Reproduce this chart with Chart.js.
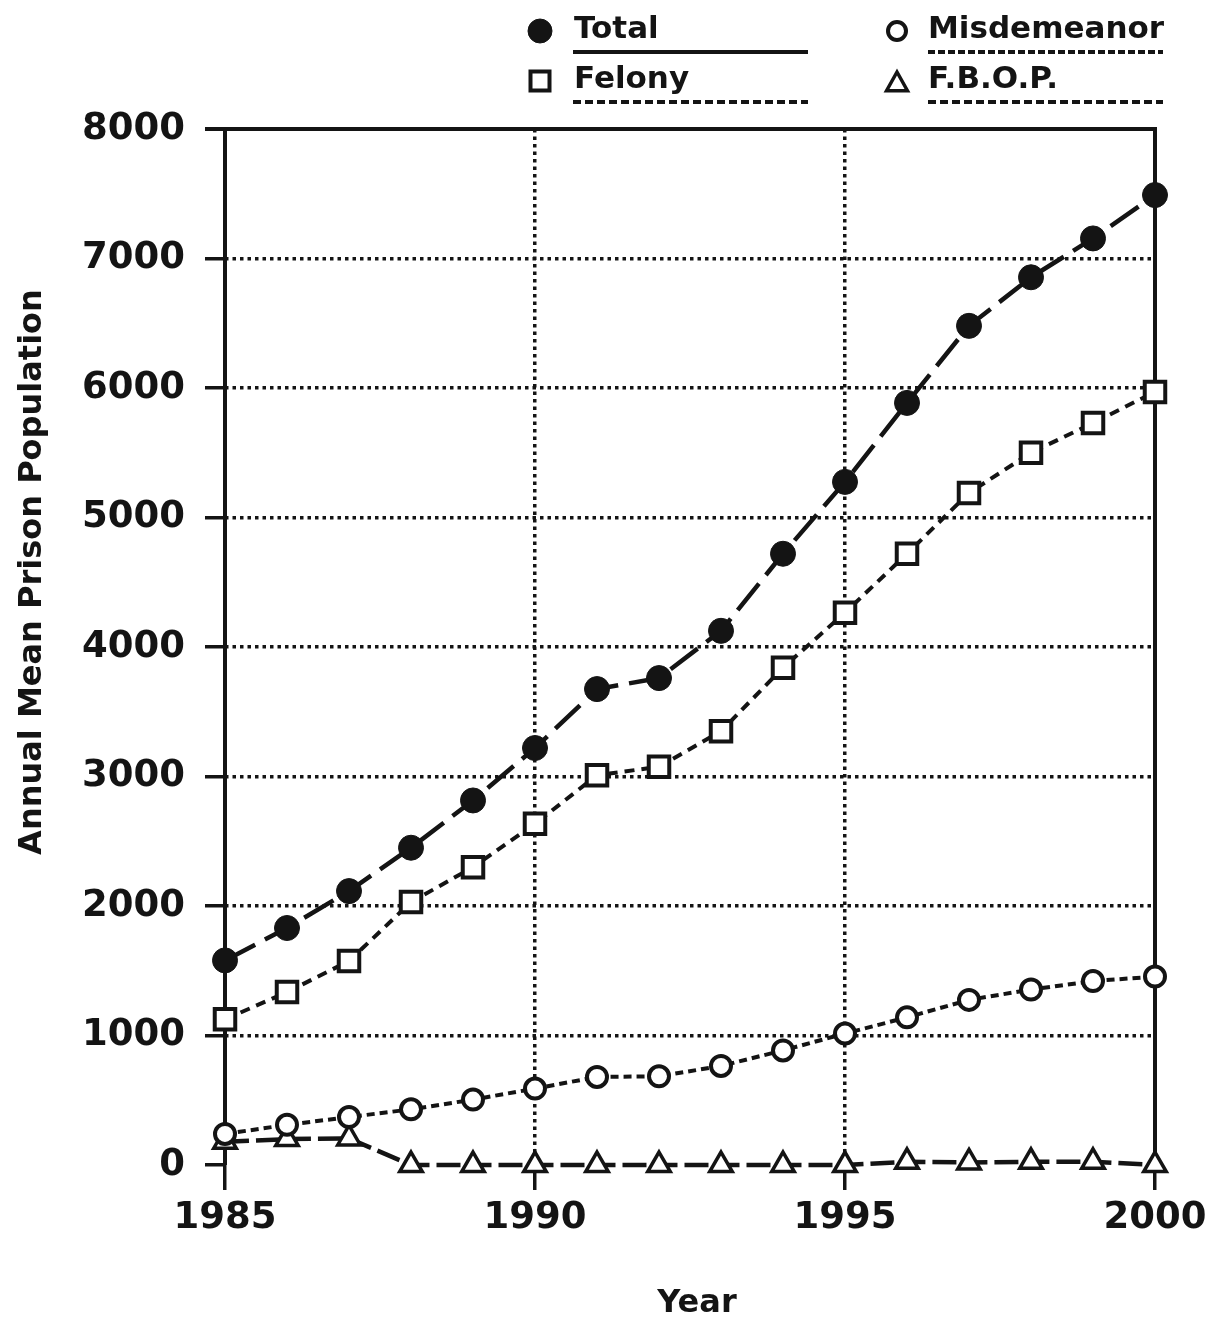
<!DOCTYPE html>
<html>
<head>
<meta charset="utf-8">
<script src="https://cdn.jsdelivr.net/npm/chart.js@4.4.1/dist/chart.umd.min.js"></script>
<style>
  html, body { margin: 0; padding: 0; background: #fff; }
  #wrap { width: 1209px; height: 1324px; position: relative; }
</style>
</head>
<body>
<div id="wrap"><canvas id="c" width="1209" height="1324"></canvas></div>
<script>
// ---- data ----
const years = [1985, 1986, 1987, 1988, 1989, 1990, 1991, 1992, 1993, 1994, 1995, 1996, 1997, 1998, 1999, 2000];
const seriesNames = ['Total', 'Felony', 'Misdemeanor', 'F.B.O.P.'];
const totalValues = [1580, 1830, 2115, 2450, 2815, 3220, 3675, 3760, 4125, 4720, 5275, 5885, 6480, 6855, 7155, 7490];
const felonyValues = [1125, 1335, 1575, 2030, 2300, 2635, 3010, 3075, 3350, 3840, 4265, 4720, 5190, 5500, 5730, 5970];
const misdemeanorValues = [240, 310, 370, 430, 505, 590, 680, 685, 765, 885, 1015, 1140, 1275, 1355, 1420, 1455];
const fbopValues = [180, 200, 205, 0, 0, 0, 0, 0, 0, 0, 0, 25, 20, 25, 25, 0];
const xTickValues = [1985, 1990, 1995, 2000];
const xTickLabels = ['1985', '1990', '1995', '2000'];
const yTickLabels = ['0', '1000', '2000', '3000', '4000', '5000', '6000', '7000', '8000'];
const xAxisTitle = 'Year';
const yAxisTitle = 'Annual Mean Prison Population';

const INK = '#141414';
const FONT = '"DejaVu Sans", sans-serif';

function pts(vals) { return years.map((y, i) => ({ x: y, y: vals[i] })); }

// frame (behind datasets)
const framePlugin = {
  id: 'frame',
  beforeDatasetsDraw(chart) {
    const ctx = chart.ctx;
    const a = chart.chartArea;
    ctx.save();
    ctx.strokeStyle = INK;
    ctx.lineWidth = 4;
    ctx.setLineDash([]);
    ctx.beginPath();
    ctx.moveTo(a.left - 20, a.top); ctx.lineTo(a.right + 2, a.top);
    ctx.moveTo(a.left, a.top - 2); ctx.lineTo(a.left, a.bottom);
    ctx.moveTo(a.right, a.top - 2); ctx.lineTo(a.right, a.bottom);
    ctx.stroke();
    ctx.restore();
  }
};

// legend + axis titles
const decorPlugin = {
  id: 'decor',
  afterDraw(chart) {
    const ctx = chart.ctx;
    ctx.save();
    ctx.fillStyle = INK;
    ctx.font = 'bold 32px ' + FONT;
    ctx.textAlign = 'center';
    ctx.textBaseline = 'middle';
    ctx.fillText(xAxisTitle, 697, 1304);
    ctx.save();
    ctx.translate(33, 572);
    ctx.rotate(-Math.PI / 2);
    ctx.fillText(yAxisTitle, 0, 0);
    ctx.restore();

    const slots = [
      { mx: 540, my: 31, tx: 574, ty: 30, ly: 52, lx1: 573, lx2: 808, dash: [] },
      { mx: 540, my: 81, tx: 574, ty: 80, ly: 102, lx1: 573, lx2: 808, dash: [8, 4] },
      { mx: 897, my: 31, tx: 928, ty: 30, ly: 52, lx1: 928, lx2: 1163, dash: [7, 3] },
      { mx: 897, my: 83, tx: 928, ty: 80, ly: 102, lx1: 928, lx2: 1163, dash: [8, 4] }
    ];
    chart.data.datasets.forEach((ds, i) => {
      const s = slots[i];
      const r = ds.legendRadius;
      ctx.save();
      ctx.fillStyle = ds.pointBackgroundColor;
      ctx.strokeStyle = INK;
      ctx.lineWidth = ds.legendBorder;
      ctx.beginPath();
      if (ds.pointStyle === 'circle') {
        ctx.arc(s.mx, s.my, r, 0, Math.PI * 2);
      } else if (ds.pointStyle === 'rect') {
        ctx.rect(s.mx - r, s.my - r, 2 * r, 2 * r);
      } else {
        ctx.moveTo(s.mx, s.my - r);
        ctx.lineTo(s.mx + r * 0.95, s.my + r * 0.7);
        ctx.lineTo(s.mx - r * 0.95, s.my + r * 0.7);
        ctx.closePath();
      }
      ctx.fill();
      ctx.stroke();
      ctx.restore();
      ctx.fillStyle = INK;
      ctx.font = 'bold 31px ' + FONT;
      ctx.textAlign = 'left';
      ctx.textBaseline = 'middle';
      ctx.fillText(ds.label, s.tx, s.ty);
      ctx.save();
      ctx.strokeStyle = INK;
      ctx.lineWidth = 4;
      ctx.setLineDash(s.dash);
      ctx.beginPath();
      ctx.moveTo(s.lx1, s.ly);
      ctx.lineTo(s.lx2, s.ly);
      ctx.stroke();
      ctx.restore();
    });
    ctx.restore();
  }
};

const chart = new Chart(document.getElementById('c'), {
  type: 'line',
  data: {
    datasets: [
      {
        label: seriesNames[0], data: pts(totalValues), clip: false,
        borderColor: INK, borderWidth: 4.5, borderDash: [34, 11],
        pointStyle: 'circle', pointRadius: 12.5, pointBorderWidth: 1,
        pointBackgroundColor: INK, pointBorderColor: INK, legendRadius: 12, legendBorder: 1
      },
      {
        label: seriesNames[1], data: pts(felonyValues), clip: false,
        borderColor: INK, borderWidth: 4, borderDash: [10, 7],
        pointStyle: 'rect', pointRadius: 14.5, pointBorderWidth: 4,
        pointBackgroundColor: '#fff', pointBorderColor: INK, legendRadius: 9.5, legendBorder: 4
      },
      {
        label: seriesNames[2], data: pts(misdemeanorValues), clip: false,
        borderColor: INK, borderWidth: 4, borderDash: [8, 5],
        pointStyle: 'circle', pointRadius: 10, pointBorderWidth: 4,
        pointBackgroundColor: '#fff', pointBorderColor: INK, legendRadius: 9, legendBorder: 4
      },
      {
        label: seriesNames[3], data: pts(fbopValues), clip: false,
        borderColor: INK, borderWidth: 4.5, borderDash: [24, 7],
        pointStyle: 'triangle', pointRadius: 13, pointBorderWidth: 3.5,
        pointBackgroundColor: '#fff', pointBorderColor: INK, legendRadius: 11, legendBorder: 3.5
      }
    ]
  },
  options: {
    responsive: false,
    animation: false,
    events: [],
    layout: { padding: { top: 129, right: 54, bottom: 0, left: 0 } },
    plugins: { legend: { display: false }, tooltip: { enabled: false }, title: { display: false } },
    elements: { line: { tension: 0 } },
    scales: {
      x: {
        type: 'linear', min: 1985, max: 2000,
        afterBuildTicks: (s) => { s.ticks = xTickValues.map(v => ({ value: v })); },
        afterFit: (s) => { s.height = 159; s.paddingLeft = 0; s.paddingRight = 0; },
        ticks: {
          color: INK, font: { family: FONT, size: 37, weight: 'bold' }, padding: 6,
          maxRotation: 0, autoSkip: false,
          callback: (v) => xTickLabels[xTickValues.indexOf(v)]
        },
        grid: {
          color: (c) => (c.tick && (c.tick.value === 1990 || c.tick.value === 1995)) ? INK : 'rgba(0,0,0,0)',
          lineWidth: 3.5, tickLength: 25, tickColor: INK, tickWidth: 3.5
        },
        border: { display: false, dash: [3.5, 4] }
      },
      y: {
        type: 'linear', min: 0, max: 8000,
        afterFit: (s) => { s.width = 225; s.paddingTop = 0; s.paddingBottom = 0; },
        ticks: {
          stepSize: 1000, color: INK, font: { family: FONT, size: 37, weight: 'bold' }, padding: 20,
          callback: (v) => yTickLabels[Math.round(v / 1000)]
        },
        grid: {
          color: (c) => (c.tick && c.tick.value > 0 && c.tick.value < 8000) ? INK : 'rgba(0,0,0,0)',
          lineWidth: 3.5, tickLength: 20, tickColor: INK, tickWidth: 3.5
        },
        border: { display: false, dash: [3.5, 4] }
      }
    }
  },
  plugins: [framePlugin, decorPlugin]
});
</script>
</body>
</html>
